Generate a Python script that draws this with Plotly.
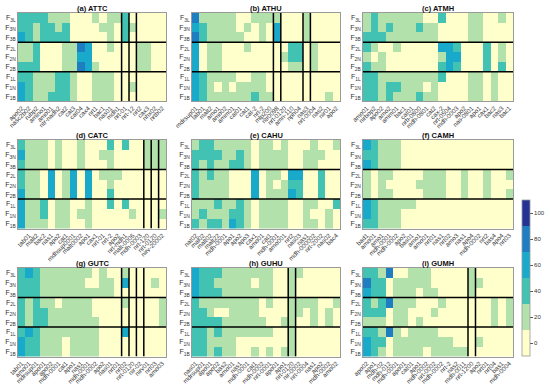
import plotly.graph_objects as go

ROWS = ["F<sub>3L</sub>", "F<sub>3N</sub>", "F<sub>3B</sub>", "F<sub>2L</sub>", "F<sub>2N</sub>",
        "F<sub>2B</sub>", "F<sub>1L</sub>", "F<sub>1N</sub>", "F<sub>1B</sub>"]

titles = ["(a) ATTC", "(b) ATHU", "(c) ATMH", "(d) CATC", "(e) CAHU", "(f) CAMH",
          "(g) GUTC", "(h) GUHU", "(i) GUMH"]

labels_a = ["apo02", "nasc2b02", "rubp2", "amino1", "amo01", "ntr-nadh2", "cat2", "cat3", "cat04", "cax4",
            "nrt1", "bac1", "nas01", "mdh1", "nrt-01", "nrt-12", "nrt2", "cax3", "nhx02", "nrtb02"]
labels_b = ["mdrsup01", "tab01", "malt2", "amo1", "amo02", "amm01", "cat01", "cat1", "cat-2", "nrt-2",
            "mlp200", "ntr0098", "nrt-0120", "amn-110", "nph04", "nas3", "nrt-0004", "nas2", "nir01", "apo2"]
labels_c = ["amo01", "nirbop2", "apo02", "amo2", "amm01", "bac1", "cat01", "nrb-0800", "mdh-0801", "cat2",
            "cax-2", "nrt-0504", "mdh-0003", "apo2", "nas-0801", "apo1", "cax1", "bac2", "nas3", "bac1"]
labels_d = ["mdrsup01", "tab01", "malt2", "bac2", "nas1", "apo2", "cat1", "mdhsup0001", "malt0002", "apo1",
            "cax1", "nrt-01", "nrt-2", "apo2", "nrt-mdh1", "malt-0006", "mdh-0003", "nrt-120", "nrt-0120", "nirv-20002"]
labels_e = ["nat02", "mal02", "malt02", "malt22", "mdh-0001", "apo1", "apo2", "apo3", "cax1", "amo01",
            "cat1", "mdh-0001", "amo001", "nrt2", "nas03", "nas1", "mdh-000002", "nrt-2002", "nas02", "bac4"]
labels_f = ["bad1", "amo01", "amo1", "mdh-0001", "mdh-0002", "apo2", "bas01", "amo1", "amo01", "nrt01",
            "nas1", "nrt02", "amo3", "nas1", "apo4", "mdh-0002", "nrt2", "bas4", "apo4", "nrt03"]
labels_g = ["tab01", "amo01", "mdrsup01", "apo01", "apo02", "mdh-0001", "cat1", "apo1", "nas1", "mdh-0001",
            "mdh-0002", "apo2", "nas01", "nrt01", "nrt02", "nrt-0120", "nir-02", "nirv01", "nrt03", "amo03"]
labels_h = ["nas01", "mdrsup01", "apo01", "apo02", "bas2", "amo01", "nas1", "mdh-0001", "cat1", "mdh-0002",
            "nrt-0001", "apo01", "apo1", "nrt-0120", "nir-0002", "nrt-0004", "nas1", "apo2", "mdh-0002", "amo02"]
labels_i = ["apo02", "apo1", "mdh-02", "mdh-012", "mdh-0001", "apo01", "cat01", "apo1", "mdh-0002", "nrt-0002",
            "mdh-0002", "nrt-2", "nas2", "mdh-0011", "nrt-1200", "apo2", "nrt01", "nrt04", "bas1", "mdh-0004"]

z_a = [[40,40,40,40,20,20,20,0,0,0,20,0,20,20,40,0,0,0,0,0],
       [40,40,20,40,40,20,40,0,0,0,0,20,20,0,40,20,0,0,0,0],
       [60,40,20,40,40,40,40,0,0,0,0,0,20,0,40,0,0,0,0,0],
       [20,20,40,0,0,0,20,20,80,60,0,0,20,0,0,0,20,20,0,0],
       [20,20,40,0,0,0,20,20,60,60,0,0,0,0,0,0,20,20,0,0],
       [40,40,40,0,0,0,20,20,80,60,20,0,0,0,0,0,20,20,0,0],
       [40,40,20,20,20,40,40,20,0,0,20,20,20,0,0,0,0,0,0,0],
       [60,40,20,20,20,40,40,20,0,0,20,20,20,0,0,20,0,0,0,0],
       [60,40,20,20,40,40,40,20,0,0,20,20,20,0,0,0,0,0,0,0]]
z_b = [[80,20,20,20,20,20,0,0,20,20,20,20,0,0,0,20,0,0,0,0],
       [60,40,20,20,20,20,0,20,0,20,0,60,0,0,0,20,0,0,0,0],
       [80,40,20,20,20,20,20,0,0,20,0,60,0,0,0,20,0,0,0,0],
       [60,0,20,20,0,0,0,20,0,0,0,0,0,40,40,0,20,0,0,0],
       [60,0,20,20,0,0,0,0,0,0,0,0,20,40,40,0,20,0,0,0],
       [60,0,20,20,0,0,0,0,0,0,0,0,0,20,20,0,20,0,0,0],
       [60,40,20,20,20,20,0,0,20,20,0,0,0,0,0,0,0,0,0,0],
       [60,40,20,0,20,0,20,20,20,20,0,0,0,0,0,0,0,0,0,0],
       [60,40,20,20,20,20,20,20,40,20,20,0,0,0,0,0,0,0,20,0]]
z_c = [[20,40,20,20,20,20,20,20,0,0,40,0,0,0,20,20,0,0,20,0],
       [20,40,20,40,20,20,20,40,20,20,0,0,0,0,20,20,0,0,0,0],
       [40,40,40,20,20,20,20,20,20,20,0,0,0,0,20,20,0,0,0,0],
       [40,20,0,0,20,0,0,0,0,0,60,60,40,0,0,0,40,0,20,0],
       [20,0,20,0,0,0,0,0,0,0,20,60,60,0,0,0,40,0,20,0],
       [40,20,20,0,0,0,0,0,0,0,40,60,40,0,0,0,40,0,40,0],
       [40,40,20,20,20,20,20,20,20,20,40,0,0,0,20,20,0,20,0,0],
       [40,40,20,40,40,20,20,20,0,20,0,0,0,0,20,20,0,20,0,0],
       [40,40,20,40,20,20,20,40,20,20,0,0,0,0,20,20,0,20,0,0]]
z_d = [[40,20,20,20,0,20,0,0,20,0,0,0,40,0,40,0,0,20,20,20],
       [60,20,20,20,0,20,0,0,20,0,0,20,20,0,0,0,0,20,20,20],
       [40,20,20,20,0,20,0,0,20,0,0,0,20,0,0,0,0,20,20,20],
       [40,20,20,0,60,0,20,60,0,60,0,20,20,20,0,0,0,0,0,0],
       [40,20,20,0,60,0,20,60,0,60,0,0,20,0,0,0,0,0,0,0],
       [60,20,20,0,60,0,20,60,0,60,0,0,40,0,0,0,0,0,0,0],
       [60,20,20,40,0,20,20,0,0,20,0,0,40,0,40,0,0,0,0,0],
       [60,20,20,40,0,20,20,0,20,20,0,0,0,0,0,20,0,0,0,20],
       [60,20,20,20,0,20,20,0,0,20,0,0,0,0,0,0,0,0,0,0]]
z_e = [[20,40,40,20,20,20,20,20,0,20,20,0,20,0,0,0,20,0,0,20],
       [40,40,40,40,20,20,40,20,0,20,20,20,20,0,0,20,20,20,0,0],
       [40,20,40,20,20,40,40,20,0,20,20,20,20,0,0,20,20,0,0,0],
       [40,20,40,20,20,0,0,0,60,0,20,20,0,60,60,0,0,40,0,0],
       [40,20,20,20,20,0,0,0,60,0,20,0,20,40,40,0,0,40,0,0],
       [40,20,20,20,20,0,0,0,60,0,20,20,20,60,40,0,0,40,0,0],
       [20,20,20,40,20,20,40,20,0,20,20,20,20,0,0,20,20,0,0,40],
       [20,40,20,20,20,40,40,20,0,20,20,20,20,0,0,20,0,0,20,0],
       [40,20,40,40,20,60,40,20,0,20,20,20,20,0,0,20,20,0,20,0]]
z_f = [[60,40,20,20,20,0,0,0,0,0,0,0,0,0,0,0,0,0,0,0],
       [40,40,20,20,20,0,0,0,0,0,0,0,0,0,0,0,0,0,0,0],
       [60,40,20,20,20,0,0,0,0,0,0,0,0,0,0,0,0,0,0,0],
       [20,0,20,20,0,0,0,0,20,20,20,0,0,20,0,0,20,0,0,20],
       [20,0,20,0,0,0,0,20,20,20,20,0,0,20,0,0,20,0,0,0],
       [20,0,20,20,0,0,0,0,20,20,20,0,0,20,0,0,20,0,0,20],
       [60,40,20,20,20,20,20,0,0,0,0,0,0,0,0,0,0,0,0,0],
       [60,40,20,20,20,0,0,0,0,0,0,0,0,0,0,0,0,0,0,0],
       [40,40,20,20,20,0,0,0,0,0,0,0,0,0,0,0,0,0,0,0]]
z_g = [[40,60,40,20,20,20,20,20,20,20,0,20,0,0,20,0,0,0,0,0],
       [40,40,40,20,20,20,20,20,20,0,0,20,20,0,60,0,0,0,20,0],
       [40,40,40,20,20,20,20,20,20,20,20,20,20,0,0,0,0,0,0,0],
       [40,20,40,20,20,0,20,20,20,20,0,0,0,0,20,0,0,0,0,20],
       [40,20,40,40,20,20,20,20,20,20,0,0,0,0,0,0,0,0,0,20],
       [40,20,40,40,20,20,20,20,20,20,20,0,0,0,0,0,0,0,0,20],
       [40,60,40,20,20,20,20,20,20,20,20,0,0,0,60,0,0,0,0,0],
       [60,40,40,20,20,20,0,20,20,20,20,0,0,0,0,0,0,0,0,0],
       [60,40,40,20,20,20,0,20,20,20,20,0,0,0,0,0,0,0,0,0]]
z_h = [[60,40,40,40,20,20,20,20,20,20,20,0,0,20,20,0,0,0,0,0],
       [60,40,40,20,20,20,20,20,0,20,20,0,0,20,0,0,0,0,0,0],
       [60,40,40,40,20,20,20,20,20,20,20,0,0,20,0,0,0,0,0,0],
       [40,20,20,20,20,20,20,20,20,0,20,0,0,20,20,20,20,0,0,20],
       [40,40,20,0,0,20,20,20,20,0,0,0,0,20,20,0,20,0,20,0],
       [40,40,40,40,20,20,20,20,20,20,0,0,20,20,0,0,20,0,20,0],
       [40,40,20,40,20,20,20,20,20,20,20,0,0,20,0,0,0,0,0,0],
       [40,40,20,20,20,20,0,0,0,0,0,0,0,20,0,0,0,0,0,0],
       [40,40,20,40,20,20,0,0,20,0,20,0,20,20,0,0,0,0,0,0]]
z_i = [[40,40,20,80,0,0,20,20,20,0,0,0,0,0,20,0,0,0,0,0],
       [80,40,40,0,20,20,20,20,20,0,0,0,0,0,20,20,0,0,0,0],
       [60,40,40,0,20,20,20,0,20,20,0,0,0,0,20,0,0,0,0,0],
       [40,20,40,80,20,20,20,0,0,0,20,0,0,0,0,0,0,20,0,20],
       [40,40,40,0,20,20,0,0,0,20,0,0,0,0,0,0,0,20,0,20],
       [20,20,20,0,20,20,0,20,0,0,0,0,0,0,0,0,0,20,0,20],
       [40,40,20,80,20,0,20,20,20,20,0,0,0,0,0,0,0,0,0,0],
       [60,40,40,0,20,20,20,20,20,20,20,20,0,0,0,20,0,0,0,0],
       [60,40,20,0,20,20,20,20,0,20,20,20,20,20,0,0,0,0,0,0]]

vlines_a = [14, 15, 16]
vlines_b = [11, 12, 15, 16]
vlines_c = []
vlines_d = [17, 18, 19]
vlines_e = []
vlines_f = []
vlines_g = [14, 15, 16, 17]
vlines_h = [13, 14]
vlines_i = [14, 15]

hlines = [3, 6]
cbar_ticks = [0, 20, 40, 60, 80, 100]

panels = [
    (labels_a, z_a, vlines_a), (labels_b, z_b, vlines_b), (labels_c, z_c, vlines_c),
    (labels_d, z_d, vlines_d), (labels_e, z_e, vlines_e), (labels_f, z_f, vlines_f),
    (labels_g, z_g, vlines_g), (labels_h, z_h, vlines_h), (labels_i, z_i, vlines_i),
]

W, H = 550, 388
col_px = [(18, 166), (192, 340), (363, 513)]
row_px = [(12.7, 101.2), (140, 228.5), (268, 356.5)]
title_px = [8.5, 135.8, 263]

colors = ["#FFFFCC", "#B3E1AC", "#42C2B2", "#19AACB", "#1F7DC2", "#253494"]
scale = []
for k, c in enumerate(colors):
    scale.append([k / 6, c])
    scale.append([(k + 1) / 6, c])

FONT = "Liberation Sans, Arial, sans-serif"
fig = go.Figure()
shapes = []
annotations = []
layout = {}

for idx, (labels, z, vl) in enumerate(panels):
    r, c = divmod(idx, 3)
    n = len(labels)
    ax = "" if idx == 0 else str(idx + 1)
    fig.add_trace(go.Heatmap(
        z=z, x=list(range(n)), y=list(range(len(ROWS))),
        coloraxis="coloraxis", xaxis="x" + ax, yaxis="y" + ax,
        hoverinfo="skip", xgap=0, ygap=0))
    x0, x1 = col_px[c]
    y0, y1 = row_px[r]
    layout["xaxis" + ax] = dict(
        domain=[x0 / W, x1 / W], anchor="y" + ax, range=[-0.5, n - 0.5], automargin=False,
        tickmode="array", tickvals=list(range(n)), ticktext=labels, tickangle=-45,
        tickfont=dict(size=6.3, color="#333333", family=FONT), ticks="", showgrid=False,
        zeroline=False, showline=True, mirror=True, linecolor="#9a9a9a", linewidth=0.8)
    layout["yaxis" + ax] = dict(
        domain=[1 - y1 / H, 1 - y0 / H], anchor="x" + ax, range=[len(ROWS) - 0.5, -0.5],
        automargin=False,
        tickmode="array", tickvals=list(range(len(ROWS))), ticktext=ROWS,
        tickfont=dict(size=7, color="#333333", family=FONT), ticks="", showgrid=False,
        zeroline=False, showline=True, mirror=True, linecolor="#9a9a9a", linewidth=0.8)
    xr, yr = "x" + ax, "y" + ax
    for h in hlines:
        shapes.append(dict(type="line", xref=xr, yref=yr, x0=-0.5, x1=n - 0.5,
                           y0=h - 0.5, y1=h - 0.5, line=dict(color="black", width=1.5)))
    for v in vl:
        shapes.append(dict(type="line", xref=xr, yref=yr, x0=v - 0.5, x1=v - 0.5,
                           y0=-0.5, y1=len(ROWS) - 0.5, line=dict(color="black", width=1.5)))
    annotations.append(dict(text="<b>" + titles[idx] + "</b>", xref="paper", yref="paper",
                            x=(x0 + x1) / 2 / W, y=1 - title_px[r] / H, xanchor="center",
                            yanchor="middle", showarrow=False,
                            font=dict(size=7.5, color="#111111", family=FONT)))

fig.update_layout(
    width=W, height=H, margin=dict(l=0, r=0, t=0, b=0, autoexpand=False),
    paper_bgcolor="white", plot_bgcolor="white", showlegend=False,
    shapes=shapes, annotations=annotations,
    coloraxis=dict(
        colorscale=scale, cmin=-10, cmax=110,
        colorbar=dict(
            x=522 / W, xanchor="left", y=1 - 356 / H, yanchor="bottom",
            lenmode="pixels", len=156, thicknessmode="pixels", thickness=8,
            xpad=0, ypad=0, outlinewidth=0.8, outlinecolor="#9a9a9a",
            tickmode="array", tickvals=cbar_ticks, ticks="outside", ticklen=3,
            tickcolor="#555555", tickfont=dict(size=6, color="#333333", family=FONT))),
    **layout)

fig.write_html("out.html", config={"displayModeBar": False},
               post_script="document.body.style.margin='0';document.body.style.overflow='hidden';")
